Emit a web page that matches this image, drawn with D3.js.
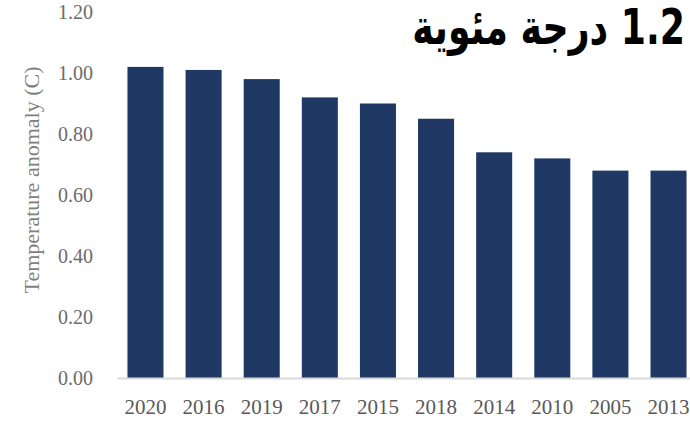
<!DOCTYPE html>
<html>
<head>
<meta charset="utf-8">
<script src="https://cdn.jsdelivr.net/npm/d3@7"></script>
<style>
  body { margin: 0; background: #fff; }
  svg { display: block; }
</style>
</head>
<body>
<svg id="chart" width="690" height="424"></svg>
<script>
// hottest years, ordered as in the picture
var years = ["2020", "2016", "2019", "2017", "2015", "2018", "2014", "2010", "2005", "2013"];
var anomalies = [1.02, 1.01, 0.98, 0.92, 0.90, 0.85, 0.74, 0.72, 0.68, 0.68];
var yTicks = [0, 0.2, 0.4, 0.6, 0.8, 1.0, 1.2];

var svg = d3.select("#chart");
var serif = "'Liberation Serif', 'DejaVu Serif', serif";

var x = d3.scaleBand()
    .domain(years)
    .range([117, 697])
    .paddingInner(0.38)
    .paddingOuter(0.18);

var y = d3.scaleLinear()
    .domain([0, 1.2])
    .range([378, 12]);

// bars
svg.append("g")
  .selectAll("rect")
  .data(years)
  .join("rect")
    .attr("x", function(d) { return x(d); })
    .attr("width", x.bandwidth())
    .attr("y", function(d, i) { return y(anomalies[i]); })
    .attr("height", function(d, i) { return y(0) - y(anomalies[i]); })
    .attr("fill", "#203864");

// y axis labels (no line)
var yAxis = svg.append("g")
    .attr("transform", "translate(93,0)")
    .call(d3.axisLeft(y).tickValues(yTicks).tickSize(0).tickPadding(0)
      .tickFormat(d3.format(".2f")));
yAxis.select(".domain").remove();
yAxis.selectAll("text")
    .attr("font-family", serif)
    .attr("font-size", 20)
    .attr("fill", "#6b6b6b");

// x axis
var xAxis = svg.append("g")
    .attr("transform", "translate(0,378)")
    .call(d3.axisBottom(x).tickSize(0).tickPadding(21));
xAxis.select(".domain")
    .attr("stroke", "#d9d9d9")
    .attr("stroke-width", 2);
xAxis.selectAll("text")
    .attr("font-family", serif)
    .attr("font-size", 21)
    .attr("fill", "#595959");

// y axis title
svg.append("text")
    .attr("transform", "translate(39,180) rotate(-90)")
    .attr("text-anchor", "middle")
    .attr("font-family", serif)
    .attr("font-size", 22)
    .attr("fill", "#7f7f7f")
    .text("Temperature anomaly (C)");

// title
svg.append("text")
    .attr("transform", "translate(685,44) scale(0.74,1)")
    .attr("direction", "rtl")
    .attr("text-anchor", "start")
    .attr("font-family", "'DejaVu Sans', 'Noto Sans', sans-serif")
    .attr("font-weight", "bold")
    .attr("font-size", 49)
    .attr("fill", "#000")
    .text("1.2 درجة مئوية");
</script>
</body>
</html>
